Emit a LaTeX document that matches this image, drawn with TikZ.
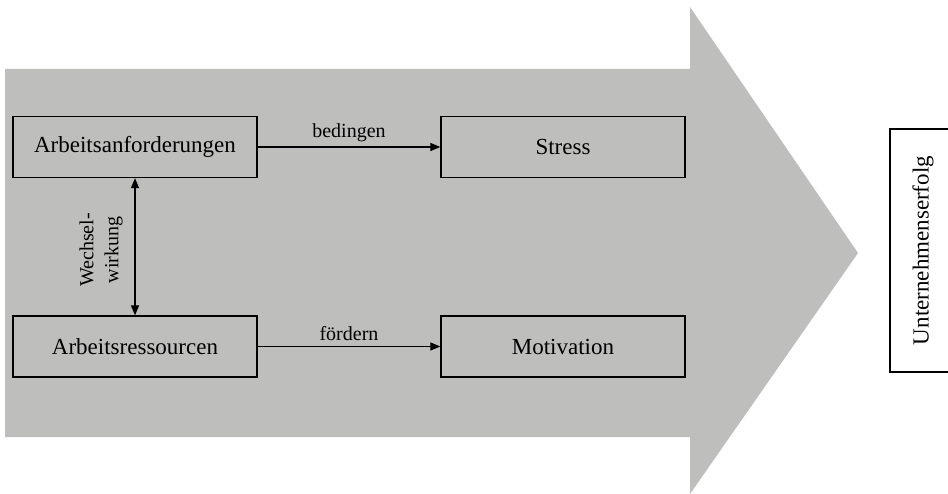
\documentclass[tikz,border=0pt]{standalone}
\usepackage{fontspec}
\setmainfont{Liberation Serif}
\usetikzlibrary{arrows.meta}
\definecolor{arrowgray}{RGB}{190,190,189}
\tikzset{
  box/.style={draw=black, line width=1.3pt, minimum width=244pt, minimum height=61pt, inner sep=0pt,
    font=\fontsize{23}{27}\selectfont},
  conn/.style={line width=1.2pt, -{Triangle[length=10pt,width=8pt]}},
  lbl/.style={font=\fontsize{20}{24}\selectfont, inner sep=0pt}
}
\begin{document}
\begin{tikzpicture}[x=1pt,y=-1pt]
\useasboundingbox (0,0) rectangle (948,494);
\fill[white] (0,0) rectangle (948,494);
% big arrow
\fill[arrowgray] (5,69) -- (690,69) -- (690,7) -- (858,253) -- (690,494) -- (690,437) -- (5,437) -- cycle;
% boxes
\node[box] (anf) at (135,147) {Arbeitsanforderungen};
\node[box] (str) at (563,147) {Stress};
\node[box] (res) at (135,346.5) {Arbeitsressourcen};
\node[box] (mot) at (563,346.5) {Motivation};
% connectors
\draw[conn] (anf.east) -- node[lbl, above=5pt] {bedingen} (str.west);
\draw[conn] (res.east) -- node[lbl, above=5pt] {fördern} (mot.west);
\draw[line width=1.2pt, {Triangle[length=10pt,width=8pt]}-{Triangle[length=10pt,width=8pt]}] (anf.south) -- (res.north);
\node[lbl, rotate=90, align=center, font=\fontsize{20}{25}\selectfont] (ww) at (101,250) {Wechsel-\\wirkung};
% right box (its right edge lies beyond the picture)
\draw[line width=1.3pt] (948,129) -- (890,129) -- (890,372) -- (948,372);
\node[font=\fontsize{23}{27}\selectfont, rotate=90, inner sep=0pt] (erft) at (923,250.5) {Unternehmenserfolg};
\end{tikzpicture}
\end{document}
